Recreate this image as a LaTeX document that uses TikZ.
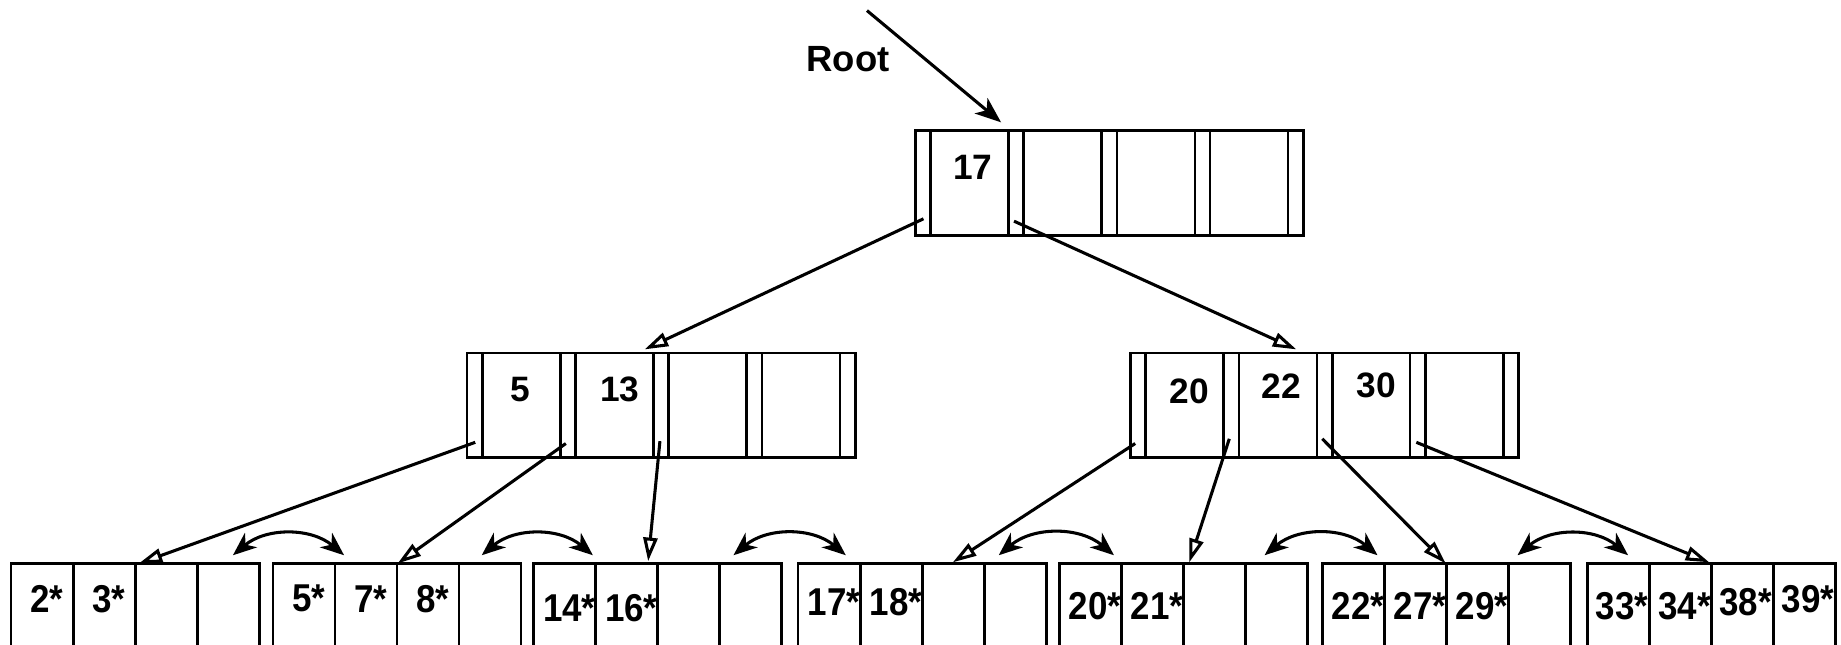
\documentclass[tikz,border=0pt]{standalone}
\usepackage{fontspec}
\usepackage{graphicx}
\setmainfont{Liberation Sans}
\usetikzlibrary{arrows.meta}
\tikzset{
  box/.style={draw=black, line width=1.1pt},
  ptr/.style={draw=black, line width=1.3pt, -{Triangle[open, length=10pt, width=6pt]}},
  sib/.style={draw=black, line width=1.3pt, {Stealth[length=10pt, width=8pt, inset=3pt]}-{Stealth[length=10pt, width=8pt, inset=3pt]}, bend left=40},
  rootarr/.style={draw=black, line width=1.3pt, -{Stealth[length=11pt, width=8.5pt, inset=3pt]}},
  keylbl/.style={inner sep=0pt, font=\fontsize{15pt}{18pt}\selectfont\bfseries},
  leaflbl/.style={inner sep=0pt, font=\fontsize{16.5pt}{19pt}\selectfont\bfseries},
  rootlbl/.style={inner sep=0pt, font=\fontsize{15.5pt}{18pt}\selectfont\bfseries}
}
\newcommand\bnode[2]{%
  \draw[box] (#1,#2) rectangle ++(330,89);
  \foreach \i in {0,...,3}{
    \draw[box] ({#1+13+\i*79.25},#2) -- ++(0,89);
    \draw[box] ({#1+79.25+\i*79.25},#2) -- ++(0,89);
  }%
}
\newcommand\leafbox[1]{%
  \draw[box] (#1,479) rectangle ++(211,100);
  \foreach \j in {1,2,3}{
    \draw[box] ({#1+\j*52.75},479) -- ++(0,100);
  }%
}
\newcommand\leaftext[4]{% name, x0, y, list
  \foreach \t [count=\j] in {#4}{
    \node[leaflbl] (#1-\j) at ({#2+26.4+4+(\j-1)*52.75},#3) {\scalebox{0.9}[1]{\t}};
  }%
}
\begin{document}
\begin{tikzpicture}[x=0.5pt,y=-0.5pt]
\useasboundingbox (0,0) rectangle (1565,548);
\clip (0,0) rectangle (1565,548);

% Root label and arrow
\node[rootlbl] (rootlabel) at (721,50) {Root};
\coordinate (rootstart) at (737,9);
\coordinate (roottip) at (851,104);
\draw[rootarr] (rootstart) -- (roottip);

% index nodes
\bnode{778}{111}
\node[keylbl] (k17) at (827,142) {17};

\bnode{397}{300}
\node[keylbl] (k5) at (442,331) {5};
\node[keylbl] (k13) at (527,331) {13};

\bnode{961}{300}
\node[keylbl] (k20) at (1011,333) {20};
\node[keylbl] (k22) at (1089,328) {22};
\node[keylbl] (k30) at (1170,328) {30};

% leaves
\leafbox{9.5}
\leafbox{232}
\leafbox{453.5}
\leafbox{678.5}
\leafbox{900.5}
\leafbox{1124}
\leafbox{1349.5}

\leaftext{la}{9.5}{509}{2*,3*}
\leaftext{lb}{232}{509}{5*,7*,8*}
\leaftext{lc}{453.5}{517}{14*,16*}
\leaftext{ld}{678.5}{512}{17*,18*}
\leaftext{le}{900.5}{515}{20*,21*}
\leaftext{lf}{1124}{515}{22*,27*,29*}
\node[leaflbl] (lg-1) at (1379,515) {\scalebox{0.9}[1]{33*}};
\node[leaflbl] (lg-2) at (1432,515) {\scalebox{0.9}[1]{34*}};
\node[leaflbl] (lg-3) at (1484,512) {\scalebox{0.9}[1]{38*}};
\node[leaflbl] (lg-4) at (1537,509) {\scalebox{0.9}[1]{39*}};

% pointer coordinates
\coordinate (r0) at (785,186);
\coordinate (r1) at (862,188);
\coordinate (a0) at (404,376);
\coordinate (a1) at (481,377);
\coordinate (a2) at (561,375);
\coordinate (b0) at (965,377);
\coordinate (b1) at (1045,373);
\coordinate (b2) at (1124,373);
\coordinate (b3) at (1204,376);

\coordinate (tA) at (548,297);
\coordinate (tB) at (1102,297);
\coordinate (t1) at (118,479);
\coordinate (t2) at (338,479);
\coordinate (t3) at (551,477);
\coordinate (t4) at (810,478);
\coordinate (t5) at (1011,478);
\coordinate (t6) at (1229,479);
\coordinate (t7) at (1453,478);

\draw[ptr] (r0) -- (tA);
\draw[ptr] (r1) -- (tB);
\draw[ptr] (a0) -- (t1);
\draw[ptr] (a1) -- (t2);
\draw[ptr] (a2) -- (t3);
\draw[ptr] (b0) -- (t4);
\draw[ptr] (b1) -- (t5);
\draw[ptr] (b2) -- (t6);
\draw[ptr] (b3) -- (t7);

% sibling links
\coordinate (s1a) at (198,472); \coordinate (s1b) at (292.5,472);
\coordinate (s2a) at (409.5,472); \coordinate (s2b) at (504,472);
\coordinate (s3a) at (623.5,472); \coordinate (s3b) at (719,472);
\coordinate (s4a) at (849,472); \coordinate (s4b) at (947,472);
\coordinate (s5a) at (1075,472); \coordinate (s5b) at (1171,472);
\coordinate (s6a) at (1290,472); \coordinate (s6b) at (1384,472);
\draw[sib] (s1a) to (s1b);
\draw[sib] (s2a) to (s2b);
\draw[sib] (s3a) to (s3b);
\draw[sib] (s4a) to (s4b);
\draw[sib] (s5a) to (s5b);
\draw[sib] (s6a) to (s6b);
\end{tikzpicture}
\end{document}
